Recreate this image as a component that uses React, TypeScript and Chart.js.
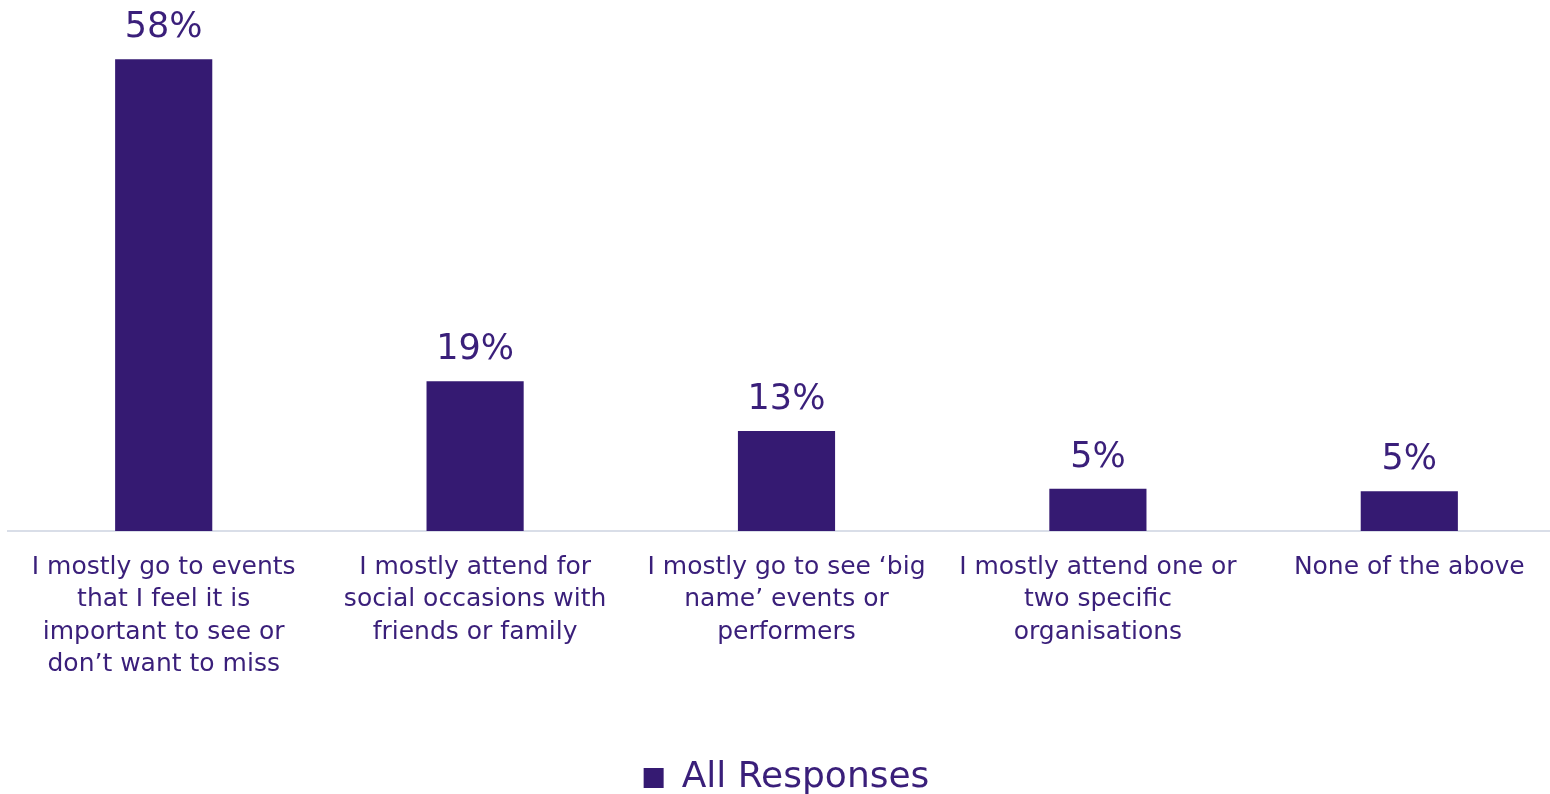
import React, { useEffect, useRef } from "react";
import { Chart, registerables } from "chart.js";

Chart.register(...registerables);

const categories: string[][] = [
  ["I mostly go to events", "that I feel it is", "important to see or", "don\u2019t want to miss"],
  ["I mostly attend for", "social occasions with", "friends or family"],
  ["I mostly go to see \u2018big", "name\u2019 events or", "performers"],
  ["I mostly attend one or", "two specific", "organisations"],
  ["None of the above"],
];
const seriesName = "All Responses";
const values: number[] = [58, 18.4, 12.3, 5.2, 4.9];
const valueLabels: string[] = ["58%", "19%", "13%", "5%", "5%"];

const BAR = "#351a72";
const TEXT = "#3a1f7a";
const FONT = "'DejaVu Sans', sans-serif";

const labelPlugin = {
  id: "valueLabels",
  afterDatasetsDraw(chart: any) {
    const meta = chart.getDatasetMeta(0);
    const ctx = chart.ctx;
    ctx.save();
    ctx.fillStyle = TEXT;
    ctx.font = `normal 35px ${FONT}`;
    ctx.textAlign = "center";
    ctx.textBaseline = "alphabetic";
    meta.data.forEach((bar: any, i: number) => {
      ctx.fillText(valueLabels[i], bar.x, bar.y - 22);
    });
    ctx.restore();
  },
};

export default function App() {
  const ref = useRef<HTMLCanvasElement>(null);
  useEffect(() => {
    if (!ref.current) return;
    const chart = new Chart(ref.current, {
      type: "bar",
      data: {
        labels: categories,
        datasets: [
          {
            label: seriesName,
            data: values,
            backgroundColor: BAR,
            borderWidth: 0,
            barPercentage: 1,
            categoryPercentage: 0.312,
          },
        ],
      },
      options: {
        responsive: false,
        animation: false,
        layout: { padding: { left: 8, right: 0, top: 43, bottom: -12 } },
        scales: {
          x: {
            grid: { display: false, drawTicks: false },
            border: { display: true, color: "#d9dee8", width: 2 },
            ticks: {
              color: TEXT,
              font: { family: FONT, size: 25, weight: "normal", lineHeight: 1.3 },
              padding: 20,
              maxRotation: 0,
              autoSkip: false,
            },
            afterFit(scale: any) {
              scale.height = 229;
            },
          },
          y: {
            display: false,
            min: 0,
            max: 60,
          },
        },
        plugins: {
          legend: {
            position: "bottom",
            labels: {
              color: TEXT,
              font: { family: FONT, size: 36, weight: "normal", lineHeight: 1.0 },
              boxWidth: 20,
              boxHeight: 20,
              padding: 0,
            },
          },
          tooltip: { enabled: false },
        },
      },
      plugins: [labelPlugin],
    });
    return () => chart.destroy();
  }, []);
  return (
    <div style={{ position: "fixed", left: 0, top: 0, width: 1550, height: 794, overflow: "hidden", background: "#fff" }}>
      <canvas ref={ref} width={1565} height={794} style={{ display: "block" }} />
    </div>
  );
}
